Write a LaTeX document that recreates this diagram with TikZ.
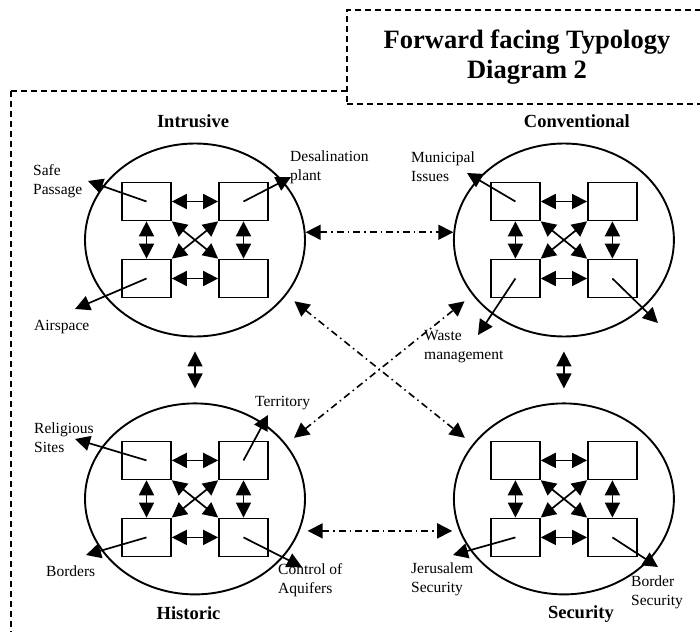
\documentclass[tikz,border=0pt]{standalone}
\usepackage{fontspec}
\setmainfont{Liberation Serif}
\usetikzlibrary{positioning, arrows.meta, shapes.geometric}

\begin{document}
\begin{tikzpicture}[
        x=1pt, y=-1pt,
        cluster/.style={draw, ellipse, line width=1.9pt, minimum width=220pt, minimum height=193pt, inner sep=0pt},
        cell/.style={draw, line width=1.7pt, minimum width=49pt, minimum height=38pt, inner sep=0pt},
        heading/.style={font=\fontsize{18.5}{22}\selectfont\bfseries, inner sep=0pt},
        lbl/.style={font=\fontsize{15.5}{19}\selectfont, align=left, anchor=west, inner sep=0pt},
        arrow/.style={line width=1.7pt, {Triangle[length=15pt,width=15pt]}-{Triangle[length=15pt,width=15pt]}},
        outarrow/.style={line width=1.7pt, -{Triangle[length=15pt,width=15pt]}},
        link/.style={line width=1.6pt, dash pattern=on 7pt off 4pt on 1.5pt off 4pt, {Triangle[length=15pt,width=15pt]}-{Triangle[length=15pt,width=15pt]}},
        frameline/.style={line width=1.4pt, dash pattern=on 6pt off 4pt}
    ]

    \useasboundingbox (0,0) rectangle (700,631);
    \clip (0,0) rectangle (700,631);

    % Rahmen und Titel
    \draw[frameline] (11,91) rectangle (720,660);
    \node (title) [draw, frameline, fill=white, minimum width=360pt, minimum height=94pt, align=center,
        font=\fontsize{26.5}{30}\selectfont\bfseries] at (527,57) {Forward facing Typology\\Diagram 2};

    % Typologien
    \node (intr) [cluster] at (195,240) {};
    \node (conv) [cluster, right=147pt of intr] {};
    \node (hist) [cluster, below=65pt of intr, minimum height=191pt] {};
    \node (secu) [cluster, below=65pt of conv, minimum height=191pt] {};

    \node [heading, above=15pt of intr, xshift=-2pt] {Intrusive};
    \node [heading, above=15pt of conv, xshift=13pt] {Conventional};
    \node [heading, below=11pt of hist, xshift=-6.5pt] {Historic};
    \node [heading, below=10pt of secu, xshift=17pt] {Security};

    % je vier Felder mit Pfeilen
    \foreach \c in {intr, conv, hist, secu} {
        \node (\c-tl) [cell] at ([shift={(-48.5,-38.5)}]\c.center) {};
        \node (\c-tr) [cell] at ([shift={(48.5,-38.5)}]\c.center) {};
        \node (\c-bl) [cell] at ([shift={(-48.5,38.5)}]\c.center) {};
        \node (\c-br) [cell] at ([shift={(48.5,38.5)}]\c.center) {};
        \draw[arrow] (\c-tl) -- (\c-tr);
        \draw[arrow] (\c-bl) -- (\c-br);
        \draw[arrow] (\c-tl) -- (\c-bl);
        \draw[arrow] (\c-tr) -- (\c-br);
        \draw[arrow] (\c-tl.south east) -- (\c-br.north west);
        \draw[arrow] (\c-tr.south west) -- (\c-bl.north east);
    }

    % Verbindungen zwischen den Typologien
    \draw[link] (intr.4) -- (conv.176);
    \draw[link, shorten <=8pt, shorten >=7pt] (hist.-17) -- (secu.197);
    \draw[link, shorten <=10pt, shorten >=10pt] (intr.-31) -- (secu.149);
    \draw[link, shorten <=10pt, shorten >=10pt] (hist.31) -- (conv.211);
    \draw[arrow, shorten <=14pt, shorten >=14pt] (intr) -- (hist);
    \draw[arrow, shorten <=14pt, shorten >=14pt] (conv) -- (secu);

    % Beschriftungen
    \coordinate (safe-tip) at (88,181);
    \coordinate (desal-tip) at (291,177);
    \coordinate (air-tip) at (75,309);
    \coordinate (muni-tip) at (467,173);
    \coordinate (waste-tip) at (478,335);
    \coordinate (conv-tip) at (658,323);
    \coordinate (relig-tip) at (75,439);
    \coordinate (terr-tip) at (268,415);
    \coordinate (bord-tip) at (86,555);
    \coordinate (aqui-tip) at (302,567);
    \coordinate (jeru-tip) at (453,555);
    \coordinate (bsec-tip) at (658,567);

    \draw[outarrow] (intr-tl.center) -- (safe-tip);
    \draw[outarrow] (intr-tr.center) -- (desal-tip);
    \draw[outarrow] (intr-bl.center) -- (air-tip);
    \draw[outarrow] (conv-tl.center) -- (muni-tip);
    \draw[outarrow] (conv-bl.center) -- (waste-tip);
    \draw[outarrow] (conv-br.center) -- (conv-tip);
    \draw[outarrow] (hist-tl.center) -- (relig-tip);
    \draw[outarrow] (hist-tr.center) -- (terr-tip);
    \draw[outarrow] (hist-bl.center) -- (bord-tip);
    \draw[outarrow] (hist-br.center) -- (aqui-tip);
    \draw[outarrow] (secu-bl.center) -- (jeru-tip);
    \draw[outarrow] (secu-br.center) -- (bsec-tip);

    \node (safe) [lbl] at (33,181) {Safe\\Passage};
    \node (desal) [lbl] at (290,167) {Desalination\\plant};
    \node (air) [lbl] at (34,327) {Airspace};
    \node (muni) [lbl] at (411,167) {Municipal\\Issues};
    \node (waste) [lbl] at (424,346.5) {Waste\\management};
    \node (relig) [lbl] at (34,438) {Religious\\Sites};
    \node (terr) [lbl] at (255,403) {Territory};
    \node (bord) [lbl] at (46,571) {Borders};
    \node (aqui) [lbl] at (278,580) {Control of\\Aquifers};
    \node (jeru) [lbl] at (411,579.5) {Jerusalem\\Security};
    \node (bsec) [lbl] at (631,592.5) {Border\\Security};

\end{tikzpicture}
\end{document}
